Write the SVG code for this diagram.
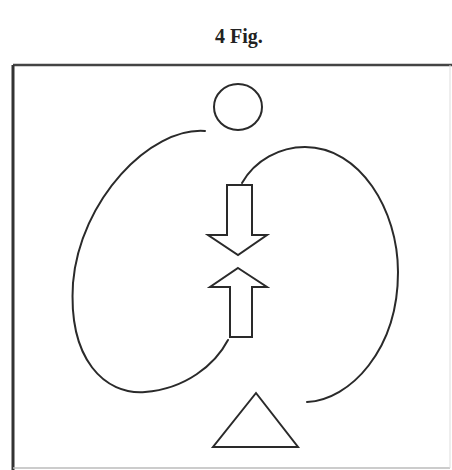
<svg xmlns="http://www.w3.org/2000/svg" width="452" height="470" viewBox="0 0 452 470">
<style>
.ln{fill:none;stroke:#2a2a2a;stroke-width:2;stroke-linecap:round;stroke-linejoin:miter}
.sh{fill:#fff;stroke:#2a2a2a;stroke-width:2;stroke-linejoin:miter}
.title{font-family:"Liberation Serif",serif;font-weight:bold;font-size:20px;fill:#222}
</style>
<rect width="452" height="470" fill="#fff"/>
<text class="title" x="215" y="43">4 Fig.</text>
<g id="frame">
<line x1="13" y1="65" x2="452" y2="65" stroke="#444" stroke-width="2.5"/>
<line x1="13" y1="65" x2="13" y2="470" stroke="#333" stroke-width="3"/>
<line x1="13" y1="468" x2="450" y2="468" stroke="#bbb" stroke-width="1.5"/>
<line x1="450" y1="65" x2="450" y2="468" stroke="#ddd" stroke-width="1"/>
</g>
<g id="circle"><ellipse class="sh" cx="238" cy="107" rx="24" ry="23"/></g>
<g id="triangle"><path class="sh" d="M256,393 L298,447 H213 Z"/></g>
<g id="arrow-down"><path class="sh" d="M227,185 H252 V235 H267 L238,255 L208,235 H227 Z"/></g>
<g id="arrow-up"><path class="sh" d="M238,268 L267,287 H252 V337 H230 V287 H210 Z"/></g>
<g id="connectors">
<path class="ln" d="M205,131 C150,127 80,200 73,283 C68,360 105,395 145,392 C185,389 215,365 228,340"/>
<path class="ln" d="M242,183 C255,160 280,147 305,147 C360,147 398,210 398,272 C398,350 350,400 307,402"/>
</g>
</svg>
